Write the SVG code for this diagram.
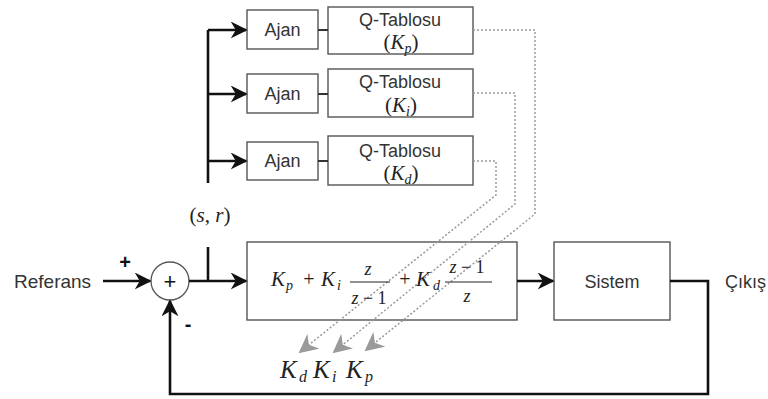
<svg xmlns="http://www.w3.org/2000/svg" width="768" height="399" viewBox="0 0 768 399">
  <defs>
    <style>
      .box { fill: #ffffff; stroke: #555555; stroke-width: 1.4; }
      .wire { fill: none; stroke: #111111; stroke-width: 2.6; }
      .thin { fill: none; stroke: #333333; stroke-width: 2.2; }
      .dot { fill: none; stroke: #9a9a9a; stroke-width: 1.5; stroke-dasharray: 2 2; }
      .lbl { font-family: "Liberation Sans", Arial, sans-serif; font-size: 18px; fill: #333333; }
      .sign { font-family: "Liberation Sans", Arial, sans-serif; font-weight: bold; fill: #111111; }
      .mi { font-family: "Liberation Serif", "Times New Roman", serif; font-style: italic; fill: #222222; }
      .mu { font-family: "Liberation Serif", "Times New Roman", serif; font-style: normal; fill: #222222; }
    </style>
    <marker id="arrow" viewBox="0 0 10 10" refX="9" refY="5" markerUnits="userSpaceOnUse" markerWidth="17" markerHeight="17" orient="auto">
      <path d="M0,0 L10,5 L0,10 L3,5 z" fill="#111111"/>
    </marker>
    <marker id="garrow" viewBox="0 0 10 10" refX="9" refY="5" markerUnits="userSpaceOnUse" markerWidth="19" markerHeight="19" orient="auto">
      <path d="M0,0 L10,5 L0,10 L3,5 z" fill="#9a9a9a"/>
    </marker>
  </defs>

  <!-- agent rows -->
  <g id="ajan-p">
    <rect class="box" x="247" y="10" width="71" height="39"/>
    <text class="lbl" x="282.5" y="36" text-anchor="middle">Ajan</text>
  </g>
  <g id="q-p">
    <rect class="box" x="328" y="7" width="145" height="47"/>
    <text class="lbl" x="400" y="26" text-anchor="middle">Q-Tablosu</text>
    <text x="401" y="49" text-anchor="middle" font-size="21"><tspan class="mu">(</tspan><tspan class="mi">K</tspan><tspan class="mi" font-size="14" dy="4">p</tspan><tspan class="mu" dy="-4">)</tspan></text>
  </g>
  <g id="ajan-i">
    <rect class="box" x="247" y="74" width="71" height="39"/>
    <text class="lbl" x="282.5" y="100" text-anchor="middle">Ajan</text>
  </g>
  <g id="q-i">
    <rect class="box" x="328" y="69" width="145" height="48"/>
    <text class="lbl" x="400" y="88" text-anchor="middle">Q-Tablosu</text>
    <text x="401" y="112" text-anchor="middle" font-size="21"><tspan class="mu">(</tspan><tspan class="mi">K</tspan><tspan class="mi" font-size="14" dy="4">i</tspan><tspan class="mu" dy="-4">)</tspan></text>
  </g>
  <g id="ajan-d">
    <rect class="box" x="247" y="142" width="71" height="38"/>
    <text class="lbl" x="282.5" y="167" text-anchor="middle">Ajan</text>
  </g>
  <g id="q-d">
    <rect class="box" x="328" y="136" width="145" height="49"/>
    <text class="lbl" x="400" y="157" text-anchor="middle">Q-Tablosu</text>
    <text x="401" y="180" text-anchor="middle" font-size="21"><tspan class="mu">(</tspan><tspan class="mi">K</tspan><tspan class="mi" font-size="14" dy="4">d</tspan><tspan class="mu" dy="-4">)</tspan></text>
  </g>

  <!-- summing junction -->
  <g id="sum">
    <circle cx="170" cy="281" r="19" fill="#ffffff" stroke="#555555" stroke-width="1.3"/>
    <text class="sign" x="170" y="289" text-anchor="middle" style="font-size:22px;font-weight:normal">+</text>
  </g>

  <!-- controller -->
  <g id="controller">
    <rect class="box" x="247" y="242" width="270" height="78"/>
  </g>

  <!-- plant -->
  <g id="sistem">
    <rect class="box" x="554" y="242" width="116" height="78"/>
    <text class="lbl" x="612" y="288" text-anchor="middle">Sistem</text>
  </g>

  <!-- connectors -->
  <g id="connectors">
    <!-- state/reward bus to agents -->
    <path class="wire" d="M208,30 V183"/>
    <path class="wire" d="M208,30 H246" marker-end="url(#arrow)"/>
    <path class="wire" d="M208,94 H246" marker-end="url(#arrow)"/>
    <path class="wire" d="M208,161 H246" marker-end="url(#arrow)"/>
    <!-- agent to Q-table -->
    <path class="thin" d="M318,30 H328 M318,94 H328 M318,161 H328"/>
    <!-- reference input -->
    <path class="wire" d="M103,281 H150" marker-end="url(#arrow)"/>
    <!-- error to controller -->
    <path class="wire" d="M189,281 H246" marker-end="url(#arrow)"/>
    <path class="wire" d="M208,247 V281"/>
    <!-- controller to plant -->
    <path class="wire" d="M517,281 H553" marker-end="url(#arrow)"/>
    <!-- feedback -->
    <path class="wire" d="M670,281 H708 V394 H170 V301" marker-end="url(#arrow)"/>
    <!-- gain updates from Q-tables -->
    <path class="dot" d="M473,30 H535 V214 L366,350" marker-end="url(#garrow)"/>
    <path class="dot" d="M473,93 H515 V204 L334,352" marker-end="url(#garrow)"/>
    <path class="dot" d="M473,161 H496 V195 L300,352" marker-end="url(#garrow)"/>
  </g>

  <!-- controller formula -->
  <g id="formula">
    <text class="mi" x="271" y="286" font-size="21">K</text>
    <text class="mi" x="286" y="290" font-size="14">p</text>
    <text class="mu" x="309" y="286" font-size="20" text-anchor="middle">+</text>
    <text class="mi" x="321" y="286" font-size="21">K</text>
    <text class="mi" x="337" y="290" font-size="14">i</text>
    <text class="mi" x="368" y="275" font-size="18" text-anchor="middle">z</text>
    <line x1="350" y1="282" x2="390" y2="282" stroke="#222222" stroke-width="1"/>
    <text x="369" y="304" font-size="18" text-anchor="middle"><tspan class="mi">z</tspan><tspan class="mu"> − 1</tspan></text>
    <text class="mu" x="405" y="286" font-size="20" text-anchor="middle">+</text>
    <text class="mi" x="416" y="286" font-size="21">K</text>
    <text class="mi" x="433" y="290" font-size="14">d</text>
    <text x="467" y="273" font-size="18" text-anchor="middle"><tspan class="mi">z</tspan><tspan class="mu"> − 1</tspan></text>
    <line x1="445" y1="282" x2="492" y2="282" stroke="#222222" stroke-width="1"/>
    <text class="mi" x="467" y="302" font-size="18" text-anchor="middle">z</text>
  </g>

  <!-- gain labels -->
  <g id="gains">
    <text class="mi" x="280" y="378" font-size="25">K</text>
    <text class="mi" x="299" y="382" font-size="16">d</text>
    <text class="mi" x="313" y="378" font-size="25">K</text>
    <text class="mi" x="332" y="382" font-size="16">i</text>
    <text class="mi" x="346" y="378" font-size="25">K</text>
    <text class="mi" x="365" y="382" font-size="16">p</text>
  </g>

  <!-- signal labels -->
  <g id="labels">
    <text class="lbl" x="14" y="288" style="font-size:19px">Referans</text>
    <text class="lbl" x="725" y="288">Çıkış</text>
    <text class="sign" x="125" y="269" text-anchor="middle" style="font-size:20px">+</text>
    <text class="sign" x="188" y="331" text-anchor="middle" style="font-size:20px">-</text>
    <text x="210" y="222" text-anchor="middle" font-size="21"><tspan class="mu">(</tspan><tspan class="mi">s</tspan><tspan class="mu">, </tspan><tspan class="mi">r</tspan><tspan class="mu">)</tspan></text>
  </g>
</svg>
